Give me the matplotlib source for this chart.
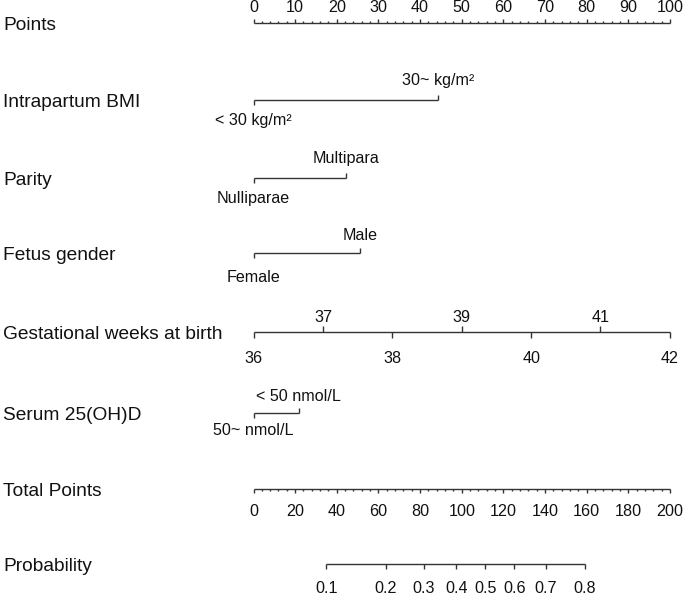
import matplotlib
matplotlib.use('Agg')
import matplotlib.pyplot as plt
import numpy as np

plt.rcParams['font.family'] = ['Liberation Sans', 'DejaVu Sans']

# ---------------- data ----------------
row_names = ['Points', 'Intrapartum BMI', 'Parity', 'Fetus gender',
             'Gestational weeks at birth', 'Serum 25(OH)D', 'Total Points', 'Probability']

points_major = [0, 10, 20, 30, 40, 50, 60, 70, 80, 90, 100]
points_minor_step = 2

bmi_levels = ['< 30 kg/m²', '30~ kg/m²']
bmi_points = [0.0, 44.4]

parity_levels = ['Nulliparae', 'Multipara']
parity_points = [0.0, 22.2]

gender_levels = ['Female', 'Male']
gender_points = [0.0, 25.5]

gest_weeks = ['36', '37', '38', '39', '40', '41', '42']
gest_points = [0.0, 16.7, 33.3, 50.0, 66.7, 83.3, 100.0]

serum_levels = ['50~ nmol/L', '< 50 nmol/L']
serum_points = [0.0, 10.9]

total_major = [0, 20, 40, 60, 80, 100, 120, 140, 160, 180, 200]
total_minor_step = 4

prob_labels = ['0.1', '0.2', '0.3', '0.4', '0.5', '0.6', '0.7', '0.8']
prob_total_points = [35.0, 63.5, 81.9, 97.4, 111.4, 125.3, 140.5, 159.2]

# ---------------- layout ----------------
W, H = 685, 597
x0_px, x100_px = 253.5, 670.0
ppx = (x100_px - x0_px) / 100.0

fig = plt.figure(figsize=(W / 100, H / 100), dpi=100)
ax = fig.add_axes([0, 0, 1, 1])
ax.set_xlim(-x0_px / ppx, (W - x0_px) / ppx)
ax.set_ylim(H, 0)
ax.axis('off')

LC = '#333333'
TC = '#111111'
LW = 1.0
FS_ROW = 13.8
FS_TICK = 11.6

row_y = [23, 100, 178, 253, 332, 413, 488.5, 564]
label_x = (3 - x0_px) / ppx

for name, y in zip(row_names, row_y):
    ax.text(label_x, y + 7, name, fontsize=FS_ROW, color=TC, ha='left', va='baseline')


def hline(x1, x2, y):
    ax.plot([x1, x2], [y, y], color=LC, lw=LW, solid_capstyle='butt')


def tick(x, y, length):
    ax.plot([x, x], [y, y + length], color=LC, lw=LW, solid_capstyle='butt')


def lab(x, y, s):
    ax.text(x, y, s, fontsize=FS_TICK, color=TC, ha='center', va='baseline')


# Points axis (ticks up, labels above)
y = row_y[0]
hline(0, 100, y)
for v in np.arange(0, 101, points_minor_step):
    tick(v, y, -4.5 if v in points_major else -2.5)
for v in points_major:
    lab(v, y - 11, str(v))


def cat_row(y, pts, levels, up_off, down_off, tl=5):
    hline(min(pts), max(pts), y)
    for i, (p, s) in enumerate(zip(pts, levels)):
        if i % 2 == 0:
            tick(p, y, tl)
            lab(p, y + down_off, s)
        else:
            tick(p, y, -tl)
            lab(p, y - up_off, s)


cat_row(row_y[1], bmi_points, bmi_levels, 15, 25)
cat_row(row_y[2], parity_points, parity_levels, 15, 25)
cat_row(row_y[3], gender_points, gender_levels, 13, 29)
cat_row(row_y[4], gest_points, gest_weeks, 10, 31, tl=6)
cat_row(row_y[5], serum_points, serum_levels, 12, 22)

# Total points axis (ticks down, labels below); 200 total = 100 points
y = row_y[6]
hline(0, 100, y)
for v in np.arange(0, 201, total_minor_step):
    tick(v / 2, y, 4.0 if v in total_major else 2.5)
for v in total_major:
    lab(v / 2, y + 28, str(v))

# Probability axis
y = row_y[7]
px = [v / 2 for v in prob_total_points]
hline(min(px), max(px), y)
for p, s in zip(px, prob_labels):
    tick(p, y, 5)
    lab(p, y + 29, s)

fig.savefig('out.png', dpi=100)
